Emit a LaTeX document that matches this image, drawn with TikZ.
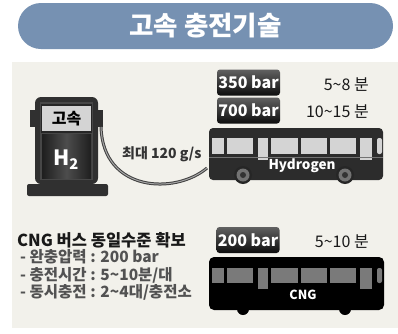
\documentclass[tikz,border=0pt]{standalone}
\usepackage{fontspec}
\setmainfont{Noto Sans CJK KR}

\definecolor{titleblue}{RGB}{118,145,178}
\definecolor{panel}{RGB}{242,241,235}
\definecolor{pumpdark}{RGB}{48,48,48}
\definecolor{busgray}{RGB}{44,44,44}
\definecolor{winlight}{RGB}{212,212,212}
\definecolor{windark}{RGB}{122,122,122}

\tikzset{
  tag/.style={rounded corners=3pt, top color=black!62, bottom color=black!95,
    text=white, minimum width=63, minimum height=26, inner sep=0pt,
    font=\bfseries\fontsize{16}{16}\selectfont},
  time/.style={anchor=east, text=black!90, inner sep=0pt,
    font=\fontsize{16}{16}\selectfont},
  note/.style={anchor=west, text=black!68, inner sep=0pt,
    font=\bfseries\fontsize{15.5}{15.5}\selectfont},
  buslabel/.style={text=white, inner sep=0pt, font=\bfseries\fontsize{13.5}{13.5}\selectfont}
}

\begin{document}
\begin{tikzpicture}[x=1pt,y=-1pt]
  \useasboundingbox (0,0) rectangle (398,333);
  \fill[white] (0,0) rectangle (398,333);
  \fill[panel] (12,62) rectangle (398,328);

  % title
  \node[fill=titleblue, rounded corners=23pt, minimum width=375, minimum height=46,
    inner sep=0pt, text=white, font=\bfseries\fontsize{26.5}{26.5}\selectfont]
    (title) at (205.5,26) {고속 충전기술};

  % pump
  \fill[pumpdark] (30,110) rectangle (36,127);
  \fill[pumpdark] (97,110) rectangle (103,127);
  \fill[pumpdark, rounded corners=6pt] (35,184) -- (35,97) -- (98,97) -- (98,184) -- cycle;
  \fill[black!72] (40,102) rectangle (93,180);
  \shade[left color=black!88, right color=black!88, middle color=black!70] (42,134) rectangle (91,178);
  \node[fill=winlight, draw=black!85, line width=1.5pt, minimum width=50, minimum height=27,
    inner sep=0pt, font=\bfseries\fontsize{16}{16}\selectfont]
    (screen) at (66.5,118.5) {고속};
  \node[text=white, font=\bfseries\fontsize{21}{21}\selectfont] (h2) at (66,160) {H\textsubscript{2}};
  \fill[pumpdark, rounded corners=2pt] (27,196) -- (27,184) -- (108,184) -- (108,196) -- cycle;
  \coordinate (nozzle) at (101,127);

  % hydrogen bus
  \fill[busgray, rounded corners=4pt] (209,180) -- (209,128) -- (383,128) -- (383,180) -- cycle;
  \foreach \a/\b in {212/224, 227/253, 271/298, 301/327, 330/356}
    \fill[winlight] (\a,138) rectangle (\b,154);
  \foreach \a/\b in {258/268, 360/372}
    \fill[winlight] (\a,138) rectangle (\b,160);
  \fill[winlight, rounded corners=2pt] (377,138) rectangle (382,154);
  \draw[black!55, line width=0.6pt] (209,157) -- (383,157);
  \foreach \x in {243,345} {
    \fill[black!85] (\x,175) circle (9);
    \fill[black!55] (\x,175) circle (6.5);
    \fill[black!80] (\x,175) circle (3);
  }
  \node[buslabel] (hname) at (302,166) {Hydrogen};
  \coordinate (inlet) at (207,168);

  % hose
  \draw[black!75, line width=3pt] (nozzle) .. controls (103,192) and (175,195) .. (inlet);
  \draw[black!35, line width=1pt] (nozzle) .. controls (103,192) and (175,195) .. (inlet);
  \node[anchor=west, text=black!80, inner sep=0pt, font=\bfseries\fontsize{14}{14}\selectfont]
    (rate) at (122,154) {최대 120 g/s};

  \node[tag] (p350) at (248.5,82.5) {350 bar};
  \node[tag] (p700) at (248.5,110.5) {700 bar};
  \node[time] (t350) at (369,85) {5\textasciitilde 8 분};
  \node[time] (t700) at (369,112) {10\textasciitilde 15 분};

  % CNG bus
  \foreach \x in {243,345}
    \fill[black] (\x,309) circle (6);
  \fill[black, rounded corners=5pt] (209,310) -- (209,257) -- (384,257) -- (384,310) -- cycle;
  \foreach \a/\b in {212/224, 227/253, 271/298, 301/327, 330/356}
    \fill[windark] (\a,268) rectangle (\b,283);
  \foreach \a/\b in {258/268, 360/372}
    \fill[windark] (\a,268) rectangle (\b,289);
  \fill[windark, rounded corners=2pt] (377,268) rectangle (382,283);
  \node[buslabel, font=\bfseries\fontsize{12.5}{12.5}\selectfont] (cname) at (303,295) {CNG};

  \node[tag] (p200) at (248,240) {200 bar};
  \node[time] (t200) at (369,242) {5\textasciitilde 10 분};

  % notes
  \node[note, text=black!90, font=\bfseries\fontsize{16.5}{16.5}\selectfont]
    (cngtitle) at (17,240) {CNG 버스 동일수준 확보};
  \node[note] (n1) at (20,257) {- 완충압력 : 200 bar};
  \node[note] (n2) at (20,275) {- 충전시간 : 5\textasciitilde 10분/대};
  \node[note] (n3) at (20,292) {- 동시충전 : 2\textasciitilde 4대/충전소};
\end{tikzpicture}
\end{document}
